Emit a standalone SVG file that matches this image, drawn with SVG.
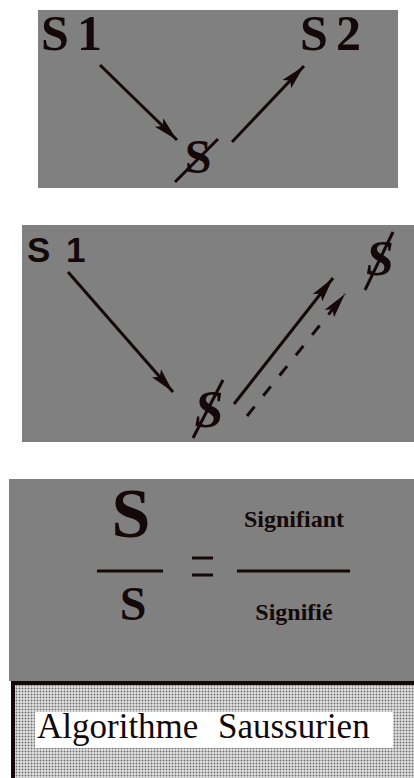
<svg xmlns="http://www.w3.org/2000/svg" width="414" height="778" viewBox="0 0 414 778">
  <style>
    .panel { fill: #808080; }
    .ink { fill: #140808; }
    .ser { font-family: "Liberation Serif", "Times New Roman", serif; font-weight: bold; }
    .sans { font-family: "Liberation Sans", Arial, sans-serif; font-weight: bold; }
    .conn { stroke: #140808; stroke-width: 3; fill: none; }
    .bar { stroke: #140808; stroke-width: 3; }
  </style>
  <defs>
    <marker id="ah" markerUnits="userSpaceOnUse" markerWidth="28" markerHeight="14" refX="25" refY="7" orient="auto">
      <path d="M0,1 L25,7 L0,13 L5,7 z" fill="#140808"/>
    </marker>
    <pattern id="dots" width="3" height="3" patternUnits="userSpaceOnUse">
      <rect width="3" height="3" fill="#ffffff"/>
      <rect x="0.5" y="0.5" width="2" height="2" fill="#6e6e6e"/>
    </pattern>
  </defs>
  <rect width="414" height="778" fill="#ffffff"/>

  <!-- Panel 1 -->
  <rect class="panel" x="38" y="10" width="360" height="178"/>
  <g id="p1-s1"><text class="ser ink" x="41" y="50" font-size="50">S<tspan x="77">1</tspan></text></g>
  <g id="p1-s2"><text class="ser ink" x="300" y="50" font-size="50">S<tspan x="336">2</tspan></text></g>
  <g id="p1-sbar">
    <text class="ser ink" x="198" y="173" font-size="48" text-anchor="middle">S</text>
    <line class="bar" x1="175" y1="182" x2="218" y2="139"/>
  </g>
  <g id="p1-connectors">
    <line class="conn" x1="100" y1="65" x2="177" y2="140" marker-end="url(#ah)"/>
    <line class="conn" x1="232" y1="142" x2="304" y2="66" marker-end="url(#ah)"/>
  </g>

  <!-- Panel 2 -->
  <rect class="panel" x="22" y="225" width="392" height="217"/>
  <g id="p2-s1"><text class="sans ink" x="27" y="262" font-size="35">S<tspan x="66">1</tspan></text></g>
  <g id="p2-sbar-bottom">
    <text class="ser ink" x="209" y="427" font-size="52" font-style="italic" text-anchor="middle">S</text>
    <line class="bar" x1="193" y1="438" x2="223" y2="380"/>
  </g>
  <g id="p2-sbar-top">
    <text class="ser ink" x="380" y="275" font-size="50" font-style="italic" text-anchor="middle">S</text>
    <line class="bar" x1="365" y1="290" x2="393" y2="232"/>
  </g>
  <g id="p2-connectors">
    <line class="conn" x1="68" y1="272" x2="173" y2="392" marker-end="url(#ah)"/>
    <line class="conn" x1="234" y1="404" x2="333" y2="278" marker-end="url(#ah)"/>
    <line class="conn" x1="247" y1="416" x2="345" y2="294" stroke-dasharray="12,14" marker-end="url(#ah)"/>
  </g>

  <!-- Panel 3 -->
  <rect class="panel" x="9" y="479" width="405" height="202"/>
  <g id="formula-left">
    <text class="ser ink" x="131" y="537" font-size="70" text-anchor="middle">S</text>
    <line class="bar" x1="97" y1="571" x2="163" y2="571"/>
    <text class="ser ink" x="133" y="620" font-size="48" text-anchor="middle">S</text>
  </g>
  <g id="equals">
    <line class="bar" x1="192" y1="558" x2="213" y2="558"/>
    <line class="bar" x1="192" y1="575" x2="213" y2="575"/>
  </g>
  <g id="formula-right">
    <text class="ser ink" x="294" y="527" font-size="24" text-anchor="middle">Signifiant</text>
    <line class="bar" x1="237" y1="571" x2="350" y2="571"/>
    <text class="ser ink" x="294" y="620" font-size="24" text-anchor="middle">Signifié</text>
  </g>

  <!-- Title box -->
  <g id="title">
    <rect x="11" y="681" width="403" height="97" fill="#140808"/>
    <rect x="15" y="685" width="399" height="93" fill="url(#dots)"/>
    <rect x="35" y="712" width="358" height="36" fill="#ffffff"/>
    <text x="37" y="738" font-size="35" font-family="'Liberation Serif', 'Times New Roman', serif" fill="#140808">Algorithme<tspan x="218">Saussurien</tspan></text>
  </g>
</svg>
